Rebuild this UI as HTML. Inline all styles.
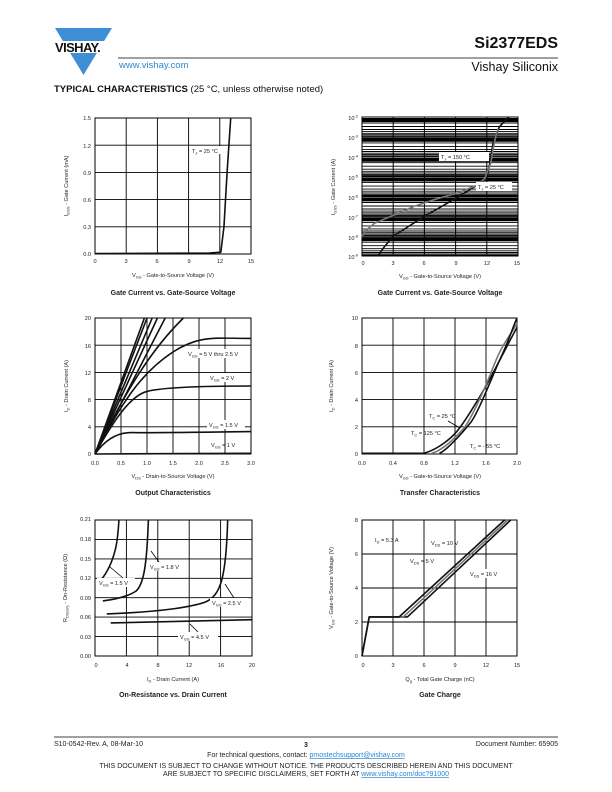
<!DOCTYPE html>
<html><head><meta charset="utf-8"><style>
body{margin:0;background:#fff}
svg{display:block}
text{font-family:"Liberation Sans",sans-serif;fill:#222}
.t{font-size:5.6px}
.ax{font-size:5.6px}
.ti{font-size:7px;font-weight:bold}
.g line{stroke:#000;stroke-width:0.9}
.c{fill:none;stroke:#111;stroke-width:1.6;vector-effect:non-scaling-stroke;stroke-linejoin:round}
.gr{fill:none;stroke:#777;stroke-width:1.6;vector-effect:non-scaling-stroke}
.box{fill:none;stroke:#000;stroke-width:1}
</style></head><body>
<svg width="612" height="792" viewBox="0 0 612 792" xmlns="http://www.w3.org/2000/svg">
<polygon points="55,28 112,28 83.5,75" fill="#3f8fd6"/>
<rect x="52" y="41" width="64" height="12" fill="#fff"/>
<text x="55" y="52" style="font-size:13px;font-weight:bold;fill:#111;letter-spacing:-0.6px">VISHAY.</text>
<line x1="118" y1="58" x2="558" y2="58" stroke="#000" stroke-width="0.8"/>
<text x="119" y="68" style="font-size:9.5px;fill:#2a86d0">www.vishay.com</text>
<text x="558" y="48" text-anchor="end" style="font-size:16px;font-weight:bold;fill:#111">Si2377EDS</text>
<text x="558" y="71" text-anchor="end" style="font-size:12.5px;fill:#111">Vishay Siliconix</text>
<text x="54" y="92" style="font-size:9.5px;fill:#111"><tspan font-weight="bold">TYPICAL CHARACTERISTICS</tspan> (25 °C, unless otherwise noted)</text>

<g class="g">
<line x1="126.2" y1="118" x2="126.2" y2="254"/><line x1="157.4" y1="118" x2="157.4" y2="254"/><line x1="188.6" y1="118" x2="188.6" y2="254"/><line x1="219.8" y1="118" x2="219.8" y2="254"/>
<line x1="95" y1="145.2" x2="251" y2="145.2"/><line x1="95" y1="172.4" x2="251" y2="172.4"/><line x1="95" y1="199.6" x2="251" y2="199.6"/><line x1="95" y1="226.8" x2="251" y2="226.8"/>
</g>
<rect class="box" x="95" y="118" width="156" height="136"/>
<g transform="translate(95,254) scale(10.4,-90.67)"><path class="c" d="M0,0.005 L11,0.01 L12.1,0.02 L12.4,0.3 L12.7,0.9 L13.05,1.5"/></g>
<rect x="190" y="146" width="35" height="8" fill="#fff"/>
<text class="t" x="192" y="153">T<tspan font-size="4" dy="1.5">J</tspan><tspan dy="-1.5"> = 25 °C</tspan></text>
<g class="t" text-anchor="end"><text x="91" y="120">1.5</text><text x="91" y="148">1.2</text><text x="91" y="175">0.9</text><text x="91" y="202">0.6</text><text x="91" y="229">0.3</text><text x="91" y="256">0.0</text></g>
<g class="t" text-anchor="middle"><text x="95" y="263">0</text><text x="126" y="263">3</text><text x="157" y="263">6</text><text x="189" y="263">9</text><text x="220" y="263">12</text><text x="251" y="263">15</text></g>
<text class="ax" x="173" y="277" text-anchor="middle">V<tspan font-size="4" dy="1.5">GS</tspan><tspan dy="-1.5"> - Gate-to-Source Voltage (V)</tspan></text>
<text class="ax" transform="translate(68,186) rotate(-90)" text-anchor="middle">I<tspan font-size="4" dy="1.5">GSS</tspan><tspan dy="-1.5"> - Gate Current (mA)</tspan></text>
<text class="ti" x="173" y="295" text-anchor="middle">Gate Current vs. Gate-Source Voltage</text>

<g stroke="#000" stroke-width="1.1">
<line x1="362" x2="518" y1="137" y2="137"/><line x1="362" x2="518" y1="156.7" y2="156.7"/><line x1="362" x2="518" y1="176.6" y2="176.6"/><line x1="362" x2="518" y1="196.4" y2="196.4"/><line x1="362" x2="518" y1="216.3" y2="216.3"/><line x1="362" x2="518" y1="236.2" y2="236.2"/>
</g>
<g stroke="#000" stroke-width="0.9">
<path d="M362,123 H518 M362,126.5 H518 M362,129.5 H518 M362,131.6 H518 M362,133.3 H518 M362,134.7 H518 M362,135.9 H518
M362,142.9 H518 M362,146.4 H518 M362,149.4 H518 M362,151.5 H518 M362,153.2 H518 M362,154.6 H518 M362,155.8 H518
M362,162.7 H518 M362,166.2 H518 M362,169.2 H518 M362,171.3 H518 M362,173 H518 M362,174.4 H518 M362,175.6 H518
M362,182.6 H518 M362,186.1 H518 M362,189.1 H518 M362,191.2 H518 M362,192.9 H518 M362,194.3 H518 M362,195.5 H518
M362,202.5 H518 M362,206 H518 M362,209 H518 M362,211.1 H518 M362,212.8 H518 M362,214.2 H518 M362,215.4 H518
M362,222.4 H518 M362,225.9 H518 M362,228.9 H518 M362,231 H518 M362,232.7 H518 M362,234.1 H518 M362,235.3 H518
M362,242.2 H518 M362,245.7 H518 M362,248.7 H518 M362,250.8 H518 M362,252.5 H518 M362,253.9 H518 M362,255.1 H518"/>
</g>
<g stroke="#000" stroke-width="4">
<path d="M362,120 H518 M362,139.8 H518 M362,159.7 H518 M362,179.5 H518 M362,199.4 H518 M362,219.3 H518 M362,239.1 H518"/>
</g>
<g stroke="#000" stroke-width="1"><line x1="393.2" y1="117" x2="393.2" y2="256"/><line x1="424.4" y1="117" x2="424.4" y2="256"/><line x1="455.6" y1="117" x2="455.6" y2="256"/><line x1="486.8" y1="117" x2="486.8" y2="256"/></g>
<rect class="box" x="362" y="117" width="156" height="139"/>
<g transform="translate(362,77.3) scale(10.4,-19.86)">
<path class="c" d="M1.5,-9 L2.2,-8.5 L3,-8 L4.5,-7.5 L6,-7 L9,-6.1 L11,-5.45 L12,-5.1 L12.3,-4.3 L12.6,-3.3 L13.2,-2.5 L14.1,-2"/>
<path class="gr" d="M0,-8 L0.4,-7.7 L1.2,-7.35 L3,-6.95 L5,-6.5 L7,-6.15 L9,-5.85 L11,-5.45 L11.8,-5.1 L12.4,-4.3 L12.6,-3.6 L12.9,-2.9 L13.1,-2.6"/>
</g>
<rect x="439" y="152" width="50" height="9" fill="#fff"/>
<text class="t" x="441" y="159">T<tspan font-size="4" dy="1.5">J</tspan><tspan dy="-1.5"> = 150 °C</tspan></text>
<rect x="476" y="182" width="36" height="9" fill="#fff"/>
<text class="t" x="478" y="189">T<tspan font-size="4" dy="1.5">J</tspan><tspan dy="-1.5"> = 25 °C</tspan></text>
<g class="t" text-anchor="end">
<text x="358" y="120">10<tspan font-size="4" dy="-2.5">-2</tspan></text><text x="358" y="140">10<tspan font-size="4" dy="-2.5">-3</tspan></text><text x="358" y="160">10<tspan font-size="4" dy="-2.5">-4</tspan></text><text x="358" y="180">10<tspan font-size="4" dy="-2.5">-5</tspan></text><text x="358" y="200">10<tspan font-size="4" dy="-2.5">-6</tspan></text><text x="358" y="220">10<tspan font-size="4" dy="-2.5">-7</tspan></text><text x="358" y="240">10<tspan font-size="4" dy="-2.5">-8</tspan></text><text x="358" y="259">10<tspan font-size="4" dy="-2.5">-9</tspan></text></g>
<g class="t" text-anchor="middle"><text x="363" y="265">0</text><text x="393" y="265">3</text><text x="424" y="265">6</text><text x="456" y="265">9</text><text x="487" y="265">12</text><text x="517" y="265">15</text></g>
<text class="ax" x="440" y="278" text-anchor="middle">V<tspan font-size="4" dy="1.5">GS</tspan><tspan dy="-1.5"> - Gate-to-Source Voltage (V)</tspan></text>
<text class="ax" transform="translate(335,187) rotate(-90)" text-anchor="middle">I<tspan font-size="4" dy="1.5">GSS</tspan><tspan dy="-1.5"> - Gate Current (A)</tspan></text>
<text class="ti" x="440" y="295" text-anchor="middle">Gate Current vs. Gate-Source Voltage</text>

<g class="g">
<line x1="121" y1="318" x2="121" y2="454"/><line x1="147" y1="318" x2="147" y2="454"/><line x1="173" y1="318" x2="173" y2="454"/><line x1="199" y1="318" x2="199" y2="454"/><line x1="225" y1="318" x2="225" y2="454"/>
<line x1="95" y1="345.2" x2="251" y2="345.2"/><line x1="95" y1="372.4" x2="251" y2="372.4"/><line x1="95" y1="399.6" x2="251" y2="399.6"/><line x1="95" y1="426.8" x2="251" y2="426.8"/>
</g>
<rect class="box" x="95" y="318" width="156" height="136"/>
<g transform="translate(95,454) scale(52,-6.8)">
<path class="c" d="M0,0 L3,0.1"/>
<path class="c" d="M0,0 Q0.3,3.2 0.7,3.15 T3,3.3"/>
<path class="c" d="M0,0 C0.4,5.5 0.7,8.6 1,9.2 S2,10 3,10"/>
<path class="c" d="M0,0 C0.6,9 1,12.5 1.5,15 S2.3,17 3,17"/>
<path class="c" d="M0,0 C0.6,9.5 1.1,15.5 1.7,20"/>
<path class="c" d="M0,0 L1.35,20"/><path class="c" d="M0,0 L1.2,20"/><path class="c" d="M0,0 L1.1,20"/><path class="c" d="M0,0 L1.0,20"/><path class="c" d="M0,0 L0.95,20"/>
</g>
<rect x="186" y="349" width="58" height="9" fill="#fff"/>
<text class="t" x="188" y="356">V<tspan font-size="4" dy="1.5">GS</tspan><tspan dy="-1.5"> = 5 V thru 2.5 V</tspan></text>
<rect x="208" y="373" width="34" height="9" fill="#fff"/>
<text class="t" x="210" y="380">V<tspan font-size="4" dy="1.5">GS</tspan><tspan dy="-1.5"> = 2 V</tspan></text>
<rect x="207" y="420" width="38" height="9" fill="#fff"/>
<text class="t" x="209" y="427">V<tspan font-size="4" dy="1.5">GS</tspan><tspan dy="-1.5"> = 1.5 V</tspan></text>
<text class="t" x="211" y="447">V<tspan font-size="4" dy="1.5">GS</tspan><tspan dy="-1.5"> = 1 V</tspan></text>
<g class="t" text-anchor="end"><text x="91" y="320">20</text><text x="91" y="348">16</text><text x="91" y="375">12</text><text x="91" y="402">8</text><text x="91" y="429">4</text><text x="91" y="456">0</text></g>
<g class="t" text-anchor="middle"><text x="95" y="465">0.0</text><text x="121" y="465">0.5</text><text x="147" y="465">1.0</text><text x="173" y="465">1.5</text><text x="199" y="465">2.0</text><text x="225" y="465">2.5</text><text x="251" y="465">3.0</text></g>
<text class="ax" x="173" y="478" text-anchor="middle">V<tspan font-size="4" dy="1.5">DS</tspan><tspan dy="-1.5"> - Drain-to-Source Voltage (V)</tspan></text>
<text class="ax" transform="translate(68,386) rotate(-90)" text-anchor="middle">I<tspan font-size="4" dy="1.5">D</tspan><tspan dy="-1.5"> - Drain Current (A)</tspan></text>
<text class="ti" x="173" y="495" text-anchor="middle">Output Characteristics</text>

<g class="g">
<line x1="393" y1="318" x2="393" y2="454"/><line x1="424" y1="318" x2="424" y2="454"/><line x1="455" y1="318" x2="455" y2="454"/><line x1="486" y1="318" x2="486" y2="454"/>
<line x1="362" y1="345.2" x2="517" y2="345.2"/><line x1="362" y1="372.4" x2="517" y2="372.4"/><line x1="362" y1="399.6" x2="517" y2="399.6"/><line x1="362" y1="426.8" x2="517" y2="426.8"/>
</g>
<rect class="box" x="362" y="318" width="155" height="136"/>
<g transform="translate(362,454) scale(77.5,-13.6)">
<path class="c" d="M0,0.05 L0.8,0.05 C0.95,0.3 1.1,0.9 1.2,1.5 S1.5,4 1.6,5 S1.9,8.3 2,9.3"/>
<path class="gr" d="M0.9,0.05 C1.05,0.3 1.2,1.2 1.3,1.8 S1.6,5 1.7,6.5 S1.9,8.6 2,9.6"/>
<path class="c" d="M1.0,0.05 C1.1,0.3 1.3,1.6 1.4,2.3 S1.7,6 1.8,7.2 S1.95,9.4 2,10"/>
</g>
<text class="t" x="429" y="418">T<tspan font-size="4" dy="1.5">C</tspan><tspan dy="-1.5"> = 25 °C</tspan></text>
<path d="M448,421 L460,428" stroke="#000" stroke-width="0.8"/>
<text class="t" x="411" y="435">T<tspan font-size="4" dy="1.5">C</tspan><tspan dy="-1.5"> = 125 °C</tspan></text>
<text class="t" x="470" y="448">T<tspan font-size="4" dy="1.5">C</tspan><tspan dy="-1.5"> = - 55 °C</tspan></text>
<g class="t" text-anchor="end"><text x="358" y="320">10</text><text x="358" y="348">8</text><text x="358" y="375">6</text><text x="358" y="402">4</text><text x="358" y="429">2</text><text x="358" y="456">0</text></g>
<g class="t" text-anchor="middle"><text x="362" y="465">0.0</text><text x="393" y="465">0.4</text><text x="424" y="465">0.8</text><text x="455" y="465">1.2</text><text x="486" y="465">1.6</text><text x="517" y="465">2.0</text></g>
<text class="ax" x="440" y="478" text-anchor="middle">V<tspan font-size="4" dy="1.5">GS</tspan><tspan dy="-1.5"> - Gate-to-Source Voltage (V)</tspan></text>
<text class="ax" transform="translate(333,386) rotate(-90)" text-anchor="middle">I<tspan font-size="4" dy="1.5">D</tspan><tspan dy="-1.5"> - Drain Current (A)</tspan></text>
<text class="ti" x="440" y="495" text-anchor="middle">Transfer Characteristics</text>

<g class="g">
<line x1="126.4" y1="520" x2="126.4" y2="656"/><line x1="157.8" y1="520" x2="157.8" y2="656"/><line x1="189.2" y1="520" x2="189.2" y2="656"/><line x1="220.6" y1="520" x2="220.6" y2="656"/>
<line x1="95" y1="539.4" x2="252" y2="539.4"/><line x1="95" y1="558.9" x2="252" y2="558.9"/><line x1="95" y1="578.3" x2="252" y2="578.3"/><line x1="95" y1="597.7" x2="252" y2="597.7"/><line x1="95" y1="617.1" x2="252" y2="617.1"/><line x1="95" y1="636.6" x2="252" y2="636.6"/>
</g>
<rect class="box" x="95" y="520" width="157" height="136"/>
<g transform="translate(95,656) scale(7.85,-647.6)">
<path class="c" d="M0.8,0.118 C1.6,0.13 2.2,0.145 2.6,0.165 C2.9,0.18 3,0.2 3.05,0.21"/>
<path class="c" d="M1,0.085 C3,0.088 4.3,0.093 5.2,0.1 C6.2,0.11 6.6,0.14 6.8,0.21"/>
<path class="c" d="M1.5,0.065 C8,0.068 12,0.075 14,0.083 C16,0.093 16.7,0.12 16.9,0.21"/>
<path class="c" d="M2,0.051 L20,0.056"/>
</g>
<rect x="97" y="578" width="38" height="9" fill="#fff"/>
<text class="t" x="99" y="585">V<tspan font-size="4" dy="1.5">GS</tspan><tspan dy="-1.5"> = 1.5 V</tspan></text>
<path d="M123,578 L110,567" stroke="#000" stroke-width="0.8"/>
<rect x="148" y="562" width="38" height="9" fill="#fff"/>
<text class="t" x="150" y="569">V<tspan font-size="4" dy="1.5">GS</tspan><tspan dy="-1.5"> = 1.8 V</tspan></text>
<path d="M159,562 L151,551" stroke="#000" stroke-width="0.8"/>
<rect x="210" y="598" width="38" height="9" fill="#fff"/>
<text class="t" x="212" y="605">V<tspan font-size="4" dy="1.5">GS</tspan><tspan dy="-1.5"> = 2.5 V</tspan></text>
<path d="M234,598 L225,584" stroke="#000" stroke-width="0.8"/>
<rect x="178" y="632" width="40" height="9" fill="#fff"/>
<text class="t" x="180" y="639">V<tspan font-size="4" dy="1.5">GS</tspan><tspan dy="-1.5"> = 4.5 V</tspan></text>
<path d="M198,632 L190,624" stroke="#000" stroke-width="0.8"/>
<g class="t" text-anchor="end"><text x="91" y="521">0.21</text><text x="91" y="541">0.18</text><text x="91" y="561">0.15</text><text x="91" y="580">0.12</text><text x="91" y="600">0.09</text><text x="91" y="619">0.06</text><text x="91" y="639">0.03</text><text x="91" y="658">0.00</text></g>
<g class="t" text-anchor="middle"><text x="96" y="667">0</text><text x="127" y="667">4</text><text x="158" y="667">8</text><text x="189" y="667">12</text><text x="221" y="667">16</text><text x="252" y="667">20</text></g>
<text class="ax" x="173" y="681" text-anchor="middle">I<tspan font-size="4" dy="1.5">D</tspan><tspan dy="-1.5"> - Drain Current (A)</tspan></text>
<text class="ax" transform="translate(67,588) rotate(-90)" text-anchor="middle">R<tspan font-size="4" dy="1.5">DS(on)</tspan><tspan dy="-1.5"> - On-Resistance (Ω)</tspan></text>
<text class="ti" x="173" y="697" text-anchor="middle">On-Resistance vs. Drain Current</text>

<g class="g">
<line x1="393" y1="520" x2="393" y2="656"/><line x1="424" y1="520" x2="424" y2="656"/><line x1="455" y1="520" x2="455" y2="656"/><line x1="486" y1="520" x2="486" y2="656"/>
<line x1="362" y1="554" x2="517" y2="554"/><line x1="362" y1="588" x2="517" y2="588"/><line x1="362" y1="622" x2="517" y2="622"/>
</g>
<rect class="box" x="362" y="520" width="155" height="136"/>
<g transform="translate(362,656) scale(10.33,-17)">
<path class="c" d="M0,0 L0.7,2.3 L4.4,2.3 L14.4,8"/>
<path class="gr" d="M0,0 L0.7,2.3 L4.0,2.3 L14.1,8"/>
<path class="c" d="M0,0 L0.7,2.3 L3.6,2.3 L13.8,8"/>
</g>
<text class="t" x="375" y="542">I<tspan font-size="4" dy="1.5">D</tspan><tspan dy="-1.5"> = 5.3 A</tspan></text>
<text class="t" x="431" y="545">V<tspan font-size="4" dy="1.5">DS</tspan><tspan dy="-1.5"> = 10 V</tspan></text>
<text class="t" x="410" y="563">V<tspan font-size="4" dy="1.5">DS</tspan><tspan dy="-1.5"> = 5 V</tspan></text>
<rect x="468" y="569" width="34" height="9" fill="#fff"/>
<text class="t" x="470" y="576">V<tspan font-size="4" dy="1.5">DS</tspan><tspan dy="-1.5"> = 16 V</tspan></text>
<g class="t" text-anchor="end"><text x="358" y="522">8</text><text x="358" y="556">6</text><text x="358" y="590">4</text><text x="358" y="624">2</text><text x="358" y="658">0</text></g>
<g class="t" text-anchor="middle"><text x="363" y="667">0</text><text x="393" y="667">3</text><text x="424" y="667">6</text><text x="455" y="667">9</text><text x="486" y="667">12</text><text x="517" y="667">15</text></g>
<text class="ax" x="440" y="681" text-anchor="middle">Q<tspan font-size="4" dy="1.5">g</tspan><tspan dy="-1.5"> - Total Gate Charge (nC)</tspan></text>
<text class="ax" transform="translate(333,588) rotate(-90)" text-anchor="middle">V<tspan font-size="4" dy="1.5">GS</tspan><tspan dy="-1.5"> - Gate-to-Source Voltage (V)</tspan></text>
<text class="ti" x="440" y="697" text-anchor="middle">Gate Charge</text>

<line x1="54" y1="737" x2="558" y2="737" stroke="#000" stroke-width="0.8"/>
<text x="54" y="746" style="font-size:7px">S10-0542-Rev. A, 08-Mar-10</text>
<text x="306" y="747" text-anchor="middle" style="font-size:7px;font-weight:bold">3</text>
<text x="558" y="746" text-anchor="end" style="font-size:7px">Document Number: 65905</text>
<text x="306" y="757" text-anchor="middle" style="font-size:7px">For technical questions, contact: <tspan fill="#2a86d0" text-decoration="underline">pmostechsupport@vishay.com</tspan></text>
<text x="306" y="768" text-anchor="middle" style="font-size:7px">THIS DOCUMENT IS SUBJECT TO CHANGE WITHOUT NOTICE. THE PRODUCTS DESCRIBED HEREIN AND THIS DOCUMENT</text>
<text x="306" y="776" text-anchor="middle" style="font-size:7px">ARE SUBJECT TO SPECIFIC DISCLAIMERS, SET FORTH AT <tspan fill="#2a86d0" text-decoration="underline">www.vishay.com/doc?91000</tspan></text>
</svg>
</body></html>
